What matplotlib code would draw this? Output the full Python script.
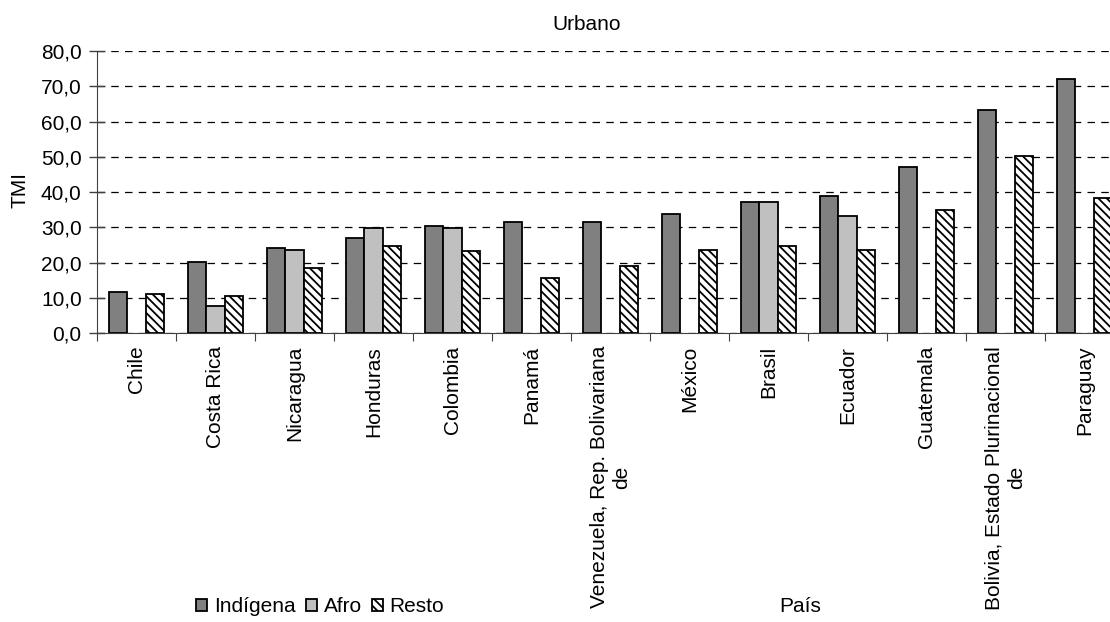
import numpy as np
import matplotlib.pyplot as plt

plt.rcParams['font.family'] = ['Liberation Sans', 'DejaVu Sans']
plt.rcParams['hatch.linewidth'] = 1.3

# data (TMI, urban)
paises = ['Chile', 'Costa Rica', 'Nicaragua', 'Honduras', 'Colombia', 'Panamá',
          'Venezuela, Rep. Bolivariana\nde', 'México', 'Brasil', 'Ecuador',
          'Guatemala', 'Bolivia, Estado Plurinacional\nde', 'Paraguay']
indigena = [11.8, 20.3, 24.2, 27.1, 30.5, 31.6, 31.6, 33.9, 37.3, 39.0, 47.0, 63.3, 72.0]
afro = [np.nan, 7.8, 23.7, 29.9, 29.9, np.nan, np.nan, np.nan, 37.3, 33.3, np.nan, np.nan, np.nan]
resto = [11.1, 10.7, 18.6, 24.8, 23.2, 15.8, 19.2, 23.7, 24.8, 23.7, 35.0, 50.3, 38.4]

fs = 15

fig = plt.figure(figsize=(11.1, 6.22), dpi=100)
# plot area runs past the right edge, as in the cropped original
ax = fig.add_axes([97/1110, 1 - 333.3/622, 1027/1110, (333.3 - 51)/622])

x = np.arange(len(paises))
w = 0.228
ax.bar(x - w, indigena, w, color='#808080', edgecolor='black', linewidth=1.3, label='Indígena', zorder=3)
ax.bar(x, afro, w, color='#C0C0C0', edgecolor='black', linewidth=1.3, label='Afro', zorder=3)
ax.bar(x + w, resto, w, color='white', edgecolor='black', linewidth=1.3, hatch='\\\\\\\\',
       label='Resto', zorder=3)

ax.set_xlim(-0.5, len(paises) - 0.5)
ax.set_ylim(0, 80)
ax.set_yticks(np.arange(0, 81, 10))
ax.set_yticklabels([f'{v:.1f}'.replace('.', ',') for v in range(0, 81, 10)], fontsize=fs)
ax.tick_params(axis='y', direction='inout', length=12, width=1, color='#404040', pad=5)
ax.yaxis.grid(True, linestyle=(0, (6, 5)), color='black', linewidth=0.9)
ax.set_axisbelow(True)

# separators between countries, labels at centres
ax.set_xticks(np.arange(-0.5, len(paises), 1))
ax.set_xticklabels([])
ax.tick_params(axis='x', which='major', direction='out', length=6, color='#404040')
ax.set_xticks(x, minor=True)
ax.set_xticklabels(paises, minor=True, rotation=90, fontsize=fs, ha='center', va='top',
                   multialignment='center')
ax.tick_params(axis='x', which='minor', length=0, pad=9)

for s in ['top', 'right']:
    ax.spines[s].set_visible(False)
for s in ['left', 'bottom']:
    ax.spines[s].set_color('#404040')

fig.text(20/1110, 1 - 190/622, 'TMI', rotation=90, fontsize=fs, ha='center', va='center')
fig.text(587/1110, 1 - 25/622, 'Urbano', fontsize=fs, ha='center', va='center')
fig.text(800/1110, 1 - 607/622, 'País', fontsize=fs, ha='center', va='center')

fig.legend(loc='center left', bbox_to_anchor=(196/1110, 1 - 607/622), ncol=3, frameon=False,
           fontsize=fs, handlelength=0.55, handleheight=0.55, handletextpad=0.3,
           columnspacing=0.5, borderaxespad=0, borderpad=0)

fig.savefig('out.png', dpi=100)
